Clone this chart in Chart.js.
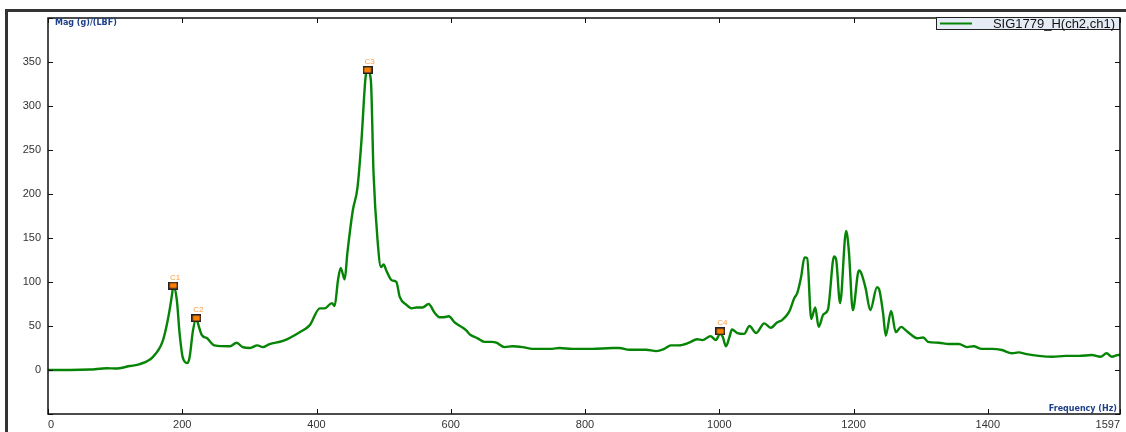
<!DOCTYPE html>
<html>
<head>
<meta charset="utf-8">
<script src="https://cdn.jsdelivr.net/npm/chart.js@4.4.0/dist/chart.umd.min.js"></script>
<style>
  body { margin: 0; background: #fff; }
</style>
</head>
<body>
<canvas id="frfChart" width="1126" height="432"></canvas>
<script>
// frequency response
const freqHz = [
  0, 33, 62, 88, 100, 122, 137, 156, 171, 179, 185, 186.5, 192, 196, 201, 208, 211, 216, 221, 223,
  229, 237, 248, 271, 281, 290, 301, 312, 320, 330, 350, 375, 390, 405, 412, 423, 427, 432, 436, 442,
  446, 454, 461, 467, 473, 476, 481, 485, 491, 496, 500, 504, 512, 519, 524, 534, 542, 549, 558, 567,
  576, 583, 590, 597, 606, 616, 623, 629, 640, 650, 661, 668, 680, 692, 707, 722, 751, 762, 781, 811,
  841, 851, 866, 891, 906, 918, 928, 940, 955, 967, 975, 987, 995, 1001, 1005, 1010, 1015, 1019, 1027, 1037,
  1045, 1055, 1067, 1077, 1086, 1094, 1104, 1112, 1116, 1122, 1127, 1131, 1137, 1143, 1148, 1155, 1162, 1171, 1174, 1180,
  1189, 1193, 1199, 1208, 1211, 1218, 1225, 1235, 1238, 1244, 1248, 1256, 1263, 1271, 1278, 1286, 1295, 1304, 1311, 1327,
  1342, 1357, 1369, 1379, 1391, 1406, 1421, 1436, 1446, 1458, 1476, 1496, 1516, 1536, 1555, 1568, 1577, 1585, 1594, 1597
];
const magnitude = [
  0, 0, 0.5, 2, 1.7, 4.5, 6.8, 14.7, 33, 59, 87, 96, 79, 42, 13.6, 8, 14.7, 45, 59, 54,
  40, 36, 28, 27, 31, 26, 25, 28, 26, 29.5, 33, 43, 51, 70, 70, 76, 72.6, 102, 116, 103,
  133, 181, 207, 261, 332, 341, 329, 223, 147, 117, 120, 113, 102, 100, 83, 74, 70, 71, 71, 75,
  65, 60, 60, 61, 54, 49, 45, 40, 36, 32, 32, 31, 26, 27, 26, 24, 24, 25, 24, 24,
  25, 25, 23, 23, 21.5, 24, 28, 28, 31, 35, 34, 38.5, 34, 41, 38, 27, 37, 46, 42, 41,
  50, 42, 53, 48, 54, 57, 66, 82, 87, 106, 128, 127, 58, 71, 49, 63, 69, 129, 126, 76,
  158, 136, 68, 113, 111, 93, 68, 94, 92, 65, 39, 67, 43, 49, 45, 40, 36, 37, 32, 31,
  29.5, 29.5, 26, 27, 24, 24, 22.7, 19, 20, 18, 16, 15, 16, 16, 17, 15, 19, 15, 17, 17
];

const peakLabels = ["C1", "C2", "C3", "C4"];
const peakHz = [186.5, 221, 476, 1001.5];
const peakMag = [96, 59, 341, 44];

const xTickValues = [0, 200, 400, 600, 800, 1000, 1200, 1400, 1597];
const yLabelValues = [0, 50, 100, 150, 200, 250, 300, 350];

const seriesName = "SIG1779_H(ch2,ch1)";
const yTitle = "Mag (g)/(LBF)";
const xTitle = "Frequency (Hz)";

const lineColor = "#068406";
const titleColor = "#1e3f8a";
const markerOrange = "#ff8000";

const curve = freqHz.map((f, i) => ({ x: f, y: magnitude[i] }));
const peaks = peakHz.map((f, i) => ({ x: f, y: peakMag[i] }));

// little orange box for the cursors
const markerImg = document.createElement("canvas");
markerImg.width = 10;
markerImg.height = 8;
{
  const c = markerImg.getContext("2d");
  c.fillStyle = "#222";
  c.fillRect(0, 0, 10, 8);
  c.fillStyle = markerOrange;
  c.fillRect(1.5, 1.5, 7, 5);
}

const decorations = {
  id: "decorations",
  beforeDraw(chart) {
    const ctx = chart.ctx;
    ctx.save();
    ctx.fillStyle = "#fff";
    ctx.fillRect(0, 0, chart.width, chart.height);
    // outer frame
    ctx.strokeStyle = "#333";
    ctx.lineWidth = 3;
    ctx.beginPath();
    ctx.moveTo(6.5, chart.height);
    ctx.lineTo(6.5, 10.5);
    ctx.lineTo(chart.width, 10.5);
    ctx.stroke();
    ctx.restore();
  },
  afterDraw(chart) {
    const ctx = chart.ctx;
    const a = chart.chartArea;
    const xs = chart.scales.x;
    const ys = chart.scales.y;
    ctx.save();

    // plot box
    ctx.strokeStyle = "#111";
    ctx.lineWidth = 1.5;
    ctx.strokeRect(a.left, a.top, a.right - a.left, a.bottom - a.top);

    // inward ticks all round
    ctx.lineWidth = 1;
    ctx.beginPath();
    xs.ticks.forEach(t => {
      const px = Math.round(xs.getPixelForValue(t.value)) + 0.5;
      ctx.moveTo(px, a.bottom); ctx.lineTo(px, a.bottom - 5);
      ctx.moveTo(px, a.top); ctx.lineTo(px, a.top + 5);
    });
    ys.ticks.forEach(t => {
      const py = Math.round(ys.getPixelForValue(t.value)) + 0.5;
      ctx.moveTo(a.left, py); ctx.lineTo(a.left + 5, py);
      ctx.moveTo(a.right, py); ctx.lineTo(a.right - 5, py);
    });
    ctx.stroke();

    // axis titles
    ctx.fillStyle = titleColor;
    ctx.font = "bold 8px 'DejaVu Sans', Verdana, sans-serif";
    ctx.textBaseline = "middle";
    ctx.textAlign = "left";
    ctx.fillText(yTitle, a.left + 7, a.top + 5);
    ctx.textAlign = "right";
    ctx.fillText(xTitle, a.right - 3, a.bottom - 5);

    // cursor labels
    const meta = chart.getDatasetMeta(0);
    ctx.fillStyle = "#ff9a40";
    ctx.font = "8px 'Liberation Sans', Arial, sans-serif";
    ctx.textAlign = "center";
    ctx.textBaseline = "middle";
    meta.data.forEach((pt, i) => {
      ctx.fillText(peakLabels[i], pt.x + 2, pt.y - 8);
    });

    // legend box
    const lw = 184, lh = 13;
    const lx = a.right - lw, ly = a.top - 1;
    ctx.fillStyle = "#e6ecf6";
    ctx.fillRect(lx, ly, lw, lh);
    ctx.strokeStyle = "#222";
    ctx.lineWidth = 1;
    ctx.strokeRect(lx + 0.5, ly + 0.5, lw - 1, lh - 1);
    ctx.strokeStyle = lineColor;
    ctx.lineWidth = 2;
    ctx.beginPath();
    ctx.moveTo(lx + 4, ly + lh / 2);
    ctx.lineTo(lx + 36, ly + lh / 2);
    ctx.stroke();
    ctx.fillStyle = "#111";
    ctx.font = "13px 'Liberation Sans', Arial, sans-serif";
    ctx.textAlign = "right";
    ctx.textBaseline = "middle";
    ctx.fillText(seriesName, a.right - 5, ly + lh / 2 + 0.5);

    ctx.restore();
  }
};

new Chart(document.getElementById("frfChart"), {
  type: "line",
  data: {
    datasets: [
      {
        label: "cursors",
        data: peaks,
        showLine: false,
        pointStyle: markerImg,
        pointRadius: 5,
        order: 0
      },
      {
        label: seriesName,
        data: curve,
        borderColor: lineColor,
        borderWidth: 2.4,
        pointRadius: 0,
        cubicInterpolationMode: "monotone",
        fill: false,
        order: 1
      }
    ]
  },
  options: {
    responsive: false,
    animation: false,
    layout: { padding: { top: 18, right: 6, left: 0, bottom: 0 } },
    plugins: {
      legend: { display: false },
      tooltip: { enabled: false }
    },
    scales: {
      x: {
        type: "linear",
        min: 0,
        max: 1597,
        grid: { display: false, drawTicks: false },
        border: { display: false },
        afterBuildTicks: scale => {
          scale.ticks = xTickValues.map(v => ({ value: v }));
        },
        afterFit: scale => { scale.height = 18; },
        ticks: {
          align: "inner",
          maxRotation: 0,
          autoSkip: false,
          padding: 4,
          color: "#333",
          font: { family: "'Liberation Sans', Arial, sans-serif", size: 11 },
          callback: v => String(v)
        }
      },
      y: {
        min: -50,
        max: 400,
        grid: { display: false, drawTicks: false },
        border: { display: false },
        afterFit: scale => { scale.width = 48; },
        ticks: {
          stepSize: 50,
          padding: 7,
          color: "#333",
          font: { family: "'Liberation Sans', Arial, sans-serif", size: 11 },
          callback: v => (yLabelValues.includes(v) ? String(v) : "")
        }
      }
    }
  },
  plugins: [decorations]
});
</script>
</body>
</html>
